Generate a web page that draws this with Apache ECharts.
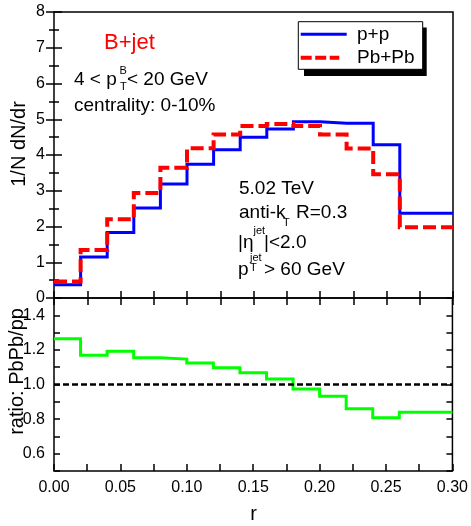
<!DOCTYPE html>
<html>
<head>
<meta charset="utf-8">
<script src="https://cdn.jsdelivr.net/npm/echarts@6/dist/echarts.min.js"></script>
<style>
html,body{margin:0;padding:0;background:#fff;}
#chart{width:471px;height:526px;}
</style>
</head>
<body>
<div id="chart"></div>
<script>
// ---- data ----
const binEdges = [0.00, 0.02, 0.04, 0.06, 0.08, 0.10, 0.12, 0.14, 0.16, 0.18, 0.20, 0.22, 0.24, 0.26, 0.30];
const ppValues = [0.37, 1.15, 1.83, 2.52, 3.19, 3.74, 4.15, 4.50, 4.73, 4.93, 4.89, 4.89, 4.29, 2.37];
const pbpbValues = [0.46, 1.34, 2.20, 2.94, 3.64, 4.19, 4.57, 4.81, 4.87, 4.81, 4.57, 4.18, 3.46, 1.98];
const ratioValues = [1.265, 1.169, 1.192, 1.155, 1.147, 1.124, 1.097, 1.068, 1.032, 0.974, 0.932, 0.860, 0.808, 0.839];
const ratioReference = 1.0;
const seriesNames = ['p+p', 'Pb+Pb'];
const xTickLabels = ['0.00', '0.05', '0.10', '0.15', '0.20', '0.25', '0.30'];
const yTopTickLabels = ['0', '1', '2', '3', '4', '5', '6', '7', '8'];
const yRatioTickLabels = ['0.6', '0.8', '1.0', '1.2', '1.4'];

// ---- helpers ----
function stepData(vals) {
  const d = vals.map((v, i) => [binEdges[i], v]);
  d.push([binEdges[binEdges.length - 1], vals[vals.length - 1]]);
  return d;
}
const FONT = '"Liberation Sans", Arial, sans-serif';
function txt(text, x, baseline, size, color, rot) {
  const el = {
    type: 'text', x: x, y: baseline - 0.33 * size, z: 100,
    style: {
      text: text, font: size + 'px ' + FONT, fill: color || '#000',
      align: 'left', verticalAlign: 'middle', textAlign: 'left', textVerticalAlign: 'middle'
    }
  };
  if (rot) {
    el.rotation = rot;
    el.y = baseline;
    el.style.align = 'center'; el.style.textAlign = 'center';
  }
  return el;
}

const tickStyle = { color: '#000', width: 1.5 };
function xAxisCfg(grid, pos, labels) {
  return {
    type: 'value', gridIndex: grid, position: pos, min: 0, max: 0.3, interval: 0.025,
    axisLine: { show: false },
    axisTick: { show: true, inside: true, length: 7, lineStyle: tickStyle },
    axisLabel: labels ? {
      show: true, margin: 9, color: '#000', fontSize: 16, fontFamily: FONT,
      formatter: v => { const s = v.toFixed(2); return xTickLabels.includes(s) ? s : ''; }
    } : { show: false },
    splitLine: { show: false }
  };
}

const chart = echarts.init(document.getElementById('chart'), null, { renderer: 'canvas' });
chart.setOption({
  animation: false,
  backgroundColor: '#fff',
  grid: [
    { left: 54, top: 12, width: 399, height: 286, show: true, borderColor: '#000', borderWidth: 1.5, backgroundColor: 'transparent' },
    { left: 54, top: 298, width: 399, height: 173, show: true, borderColor: '#000', borderWidth: 1.5, backgroundColor: 'transparent' }
  ],
  xAxis: [
    xAxisCfg(0, 'bottom', false),
    xAxisCfg(0, 'top', false),
    xAxisCfg(1, 'bottom', true)
  ],
  yAxis: [
    {
      type: 'value', gridIndex: 0, position: 'left', min: 0, max: 8, interval: 1,
      axisLine: { show: false },
      axisTick: { show: true, inside: true, length: 8, lineStyle: tickStyle },
      minorTick: { show: true, splitNumber: 2, length: 5, lineStyle: tickStyle },
      axisLabel: { show: true, margin: 9, color: '#000', fontSize: 16, fontFamily: FONT,
        formatter: v => { const s = String(Math.round(v)); return yTopTickLabels.includes(s) ? s : ''; } },
      splitLine: { show: false }
    },
    {
      type: 'value', gridIndex: 0, position: 'right', min: 0, max: 8, interval: 1,
      axisLine: { show: false },
      axisTick: { show: true, inside: true, length: 8, lineStyle: tickStyle },
      minorTick: { show: true, splitNumber: 2, length: 5, lineStyle: tickStyle },
      axisLabel: { show: false }, splitLine: { show: false }
    },
    {
      type: 'value', gridIndex: 1, position: 'left', min: 0.5, max: 1.5, interval: 0.1,
      axisLine: { show: false },
      axisTick: { show: true, inside: true, length: 6, lineStyle: tickStyle },
      axisLabel: { show: true, margin: 9, color: '#000', fontSize: 16, fontFamily: FONT,
        formatter: v => { const s = v.toFixed(1); return yRatioTickLabels.includes(s) ? s : ''; } },
      splitLine: { show: false }
    },
    {
      type: 'value', gridIndex: 1, position: 'right', min: 0.5, max: 1.5, interval: 0.1,
      axisLine: { show: false },
      axisTick: { show: true, inside: true, length: 6, lineStyle: tickStyle },
      axisLabel: { show: false }, splitLine: { show: false }
    }
  ],
  series: [
    {
      name: seriesNames[0], type: 'line', xAxisIndex: 0, yAxisIndex: 0, step: 'end',
      data: stepData(ppValues), symbol: 'none', showSymbol: false, z: 3,
      lineStyle: { color: '#0000ff', width: 3, cap: 'butt', join: 'miter' }
    },
    {
      name: seriesNames[1], type: 'line', xAxisIndex: 0, yAxisIndex: 0, step: 'end',
      data: stepData(pbpbValues), symbol: 'none', showSymbol: false, z: 4,
      lineStyle: { color: '#ff0000', width: 4, type: [13, 5], cap: 'butt', join: 'miter' }
    },
    {
      name: 'ratio', type: 'line', xAxisIndex: 2, yAxisIndex: 2, step: 'end',
      data: stepData(ratioValues), symbol: 'none', showSymbol: false, z: 4,
      lineStyle: { color: '#00ff00', width: 3, cap: 'butt', join: 'miter' },
      markLine: {
        silent: true, symbol: 'none', label: { show: false }, animation: false,
        lineStyle: { color: '#000', width: 2.5, type: [6, 3] },
        data: [{ yAxis: ratioReference }]
      }
    }
  ],
  graphic: [
    // legend
    { type: 'rect', z: 90, shape: { x: 304, y: 27.5, width: 122.7, height: 48.5 }, style: { fill: '#000' } },
    { type: 'rect', z: 91, shape: { x: 298.3, y: 21.7, width: 124.4, height: 47.6 }, style: { fill: '#fff', stroke: '#000', lineWidth: 1 } },
    { type: 'line', z: 92, shape: { x1: 300.7, y1: 34.3, x2: 346.7, y2: 34.3 }, style: { stroke: '#0000ff', lineWidth: 3 } },
    { type: 'line', z: 92, shape: { x1: 300.7, y1: 57.7, x2: 339.3, y2: 57.7 }, style: { stroke: '#ff0000', lineWidth: 4, lineDash: [11, 3.5] } },
    txt(seriesNames[0], 357, 41.5, 19),
    txt(seriesNames[1], 357, 64.3, 19),
    // top-left labels
    txt('B+jet', 104, 50, 22, '#ff0000'),
    txt('4 < p', 74, 86, 19),
    txt('B', 119.5, 74.5, 11),
    txt('T', 120, 90.5, 11),
    txt('< 20 GeV', 127, 86, 19),
    txt('centrality: 0-10%', 74, 112, 19),
    // middle labels
    txt('5.02 TeV', 239, 195, 19),
    txt('anti-k', 239, 219, 19),
    txt('T', 283, 227, 11),
    txt('R=0.3', 296, 219, 19),
    txt('|\u03b7', 238, 249, 19),
    txt('jet', 253.5, 235, 11),
    txt('|<2.0', 264, 249, 19),
    txt('p', 238, 276, 19),
    txt('jet', 250, 262, 11),
    txt('T', 250, 271.5, 11),
    txt('> 60 GeV', 264, 276, 19),
    // axis titles
    txt('1/N dN/dr', 19, 144, 20, '#000', Math.PI / 2),
    txt('ratio: PbPb/pp', 17, 371.5, 20, '#000', Math.PI / 2),
    { type: 'text', x: 253.5, y: 514, z: 100, style: { text: 'r', font: '20px ' + FONT, fill: '#000', align: 'center', verticalAlign: 'middle', textAlign: 'center', textVerticalAlign: 'middle' } }
  ]
});
</script>
</body>
</html>
